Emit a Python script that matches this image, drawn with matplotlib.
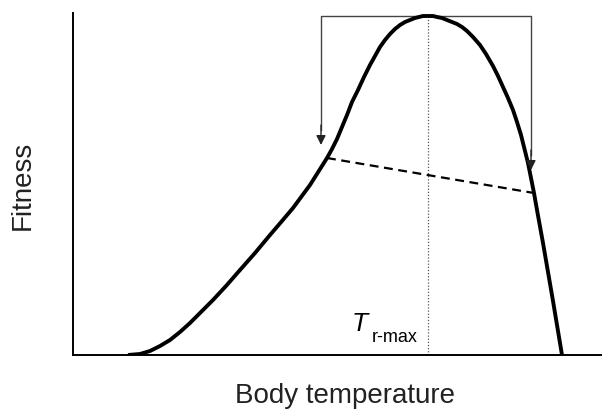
import matplotlib.pyplot as plt

plt.rcParams['font.family'] = ['Liberation Sans', 'DejaVu Sans']

# Data (arbitrary units: temperature along x, fitness along y)
temp = [128, 140, 150, 160, 170, 180, 190, 200, 213, 226, 240, 255, 270, 282,
        293, 310, 327, 332, 337, 342, 347, 352, 358, 364, 370, 375, 380, 385,
        390, 395, 400, 405, 410, 415, 419, 423, 428, 433, 437, 442, 447, 452,
        457, 462, 467, 473, 480, 486, 493, 498, 503, 508, 513, 517, 521, 524,
        528, 531, 534, 537, 543, 548, 553, 557, 562]
fitness = [0, 1, 4, 9, 15, 23, 32, 42, 55, 69, 85, 102, 120, 134,
           147, 170, 197, 206, 216, 228, 240, 253, 265, 278, 290, 299, 308, 315,
           321, 326, 330, 333, 335, 337, 338, 339, 339, 339, 338, 337, 335, 333,
           331, 328, 324, 318, 310, 301, 289, 279, 268, 257, 245, 233, 220, 208,
           192, 177, 162, 145, 112, 83, 54, 30, 0]

t_rmax = 428
peak = 339
shift_left, shift_right = 321, 531
arrow_left_end, arrow_right_end = 210, 185
dash_x = [327, 534]
dash_y = [197, 162]

fig = plt.figure(figsize=(6.13, 4.11), dpi=100)
ax = fig.add_axes([73 / 613, 56 / 411, (601 - 73) / 613, 342 / 411])

ax.plot(temp, fitness, color='black', lw=2.8, solid_capstyle='butt',
        solid_joinstyle='round', zorder=3)

# optimum marker
ax.plot([t_rmax, t_rmax], [0, peak], color='#555555', lw=0.9, linestyle=(0, (1, 1.5)))

# acclimation box with arrows
ax.plot([shift_left, shift_left, shift_right, shift_right],
        [arrow_left_end + 15, peak, peak, arrow_right_end + 15],
        color='#444444', lw=1.0)
ax.annotate('', xy=(shift_left, arrow_left_end), xytext=(shift_left, arrow_left_end + 20),
            arrowprops=dict(arrowstyle='-|>', color='#222222', lw=1.0,
                            mutation_scale=14, shrinkA=0, shrinkB=0))
ax.annotate('', xy=(shift_right, arrow_right_end), xytext=(shift_right, arrow_right_end + 20),
            arrowprops=dict(arrowstyle='-|>', color='#222222', lw=1.0,
                            mutation_scale=14, shrinkA=0, shrinkB=0))

ax.plot(dash_x, dash_y, color='black', lw=1.6, linestyle=(0, (4, 2.5)))

ax.text(352, 24, 'T', fontsize=19, style='italic', ha='left', va='baseline')
ax.text(372, 13, 'r-max', fontsize=13, ha='left', va='baseline')

ax.set_xlim(73, 601)
ax.set_ylim(0, 342)
ax.set_xticks([])
ax.set_yticks([])
for s in ['top', 'right']:
    ax.spines[s].set_visible(False)
ax.spines['left'].set_linewidth(1.4)
ax.spines['bottom'].set_linewidth(1.4)

fig.text(345 / 613, 1 - 396 / 411, 'Body temperature', fontsize=20,
         ha='center', va='center', color='#222222')
fig.text(23 / 613, 1 - 185 / 411, 'Fitness', fontsize=20, rotation=90,
         ha='center', va='center', color='#222222')

fig.savefig('out.png', dpi=100)
